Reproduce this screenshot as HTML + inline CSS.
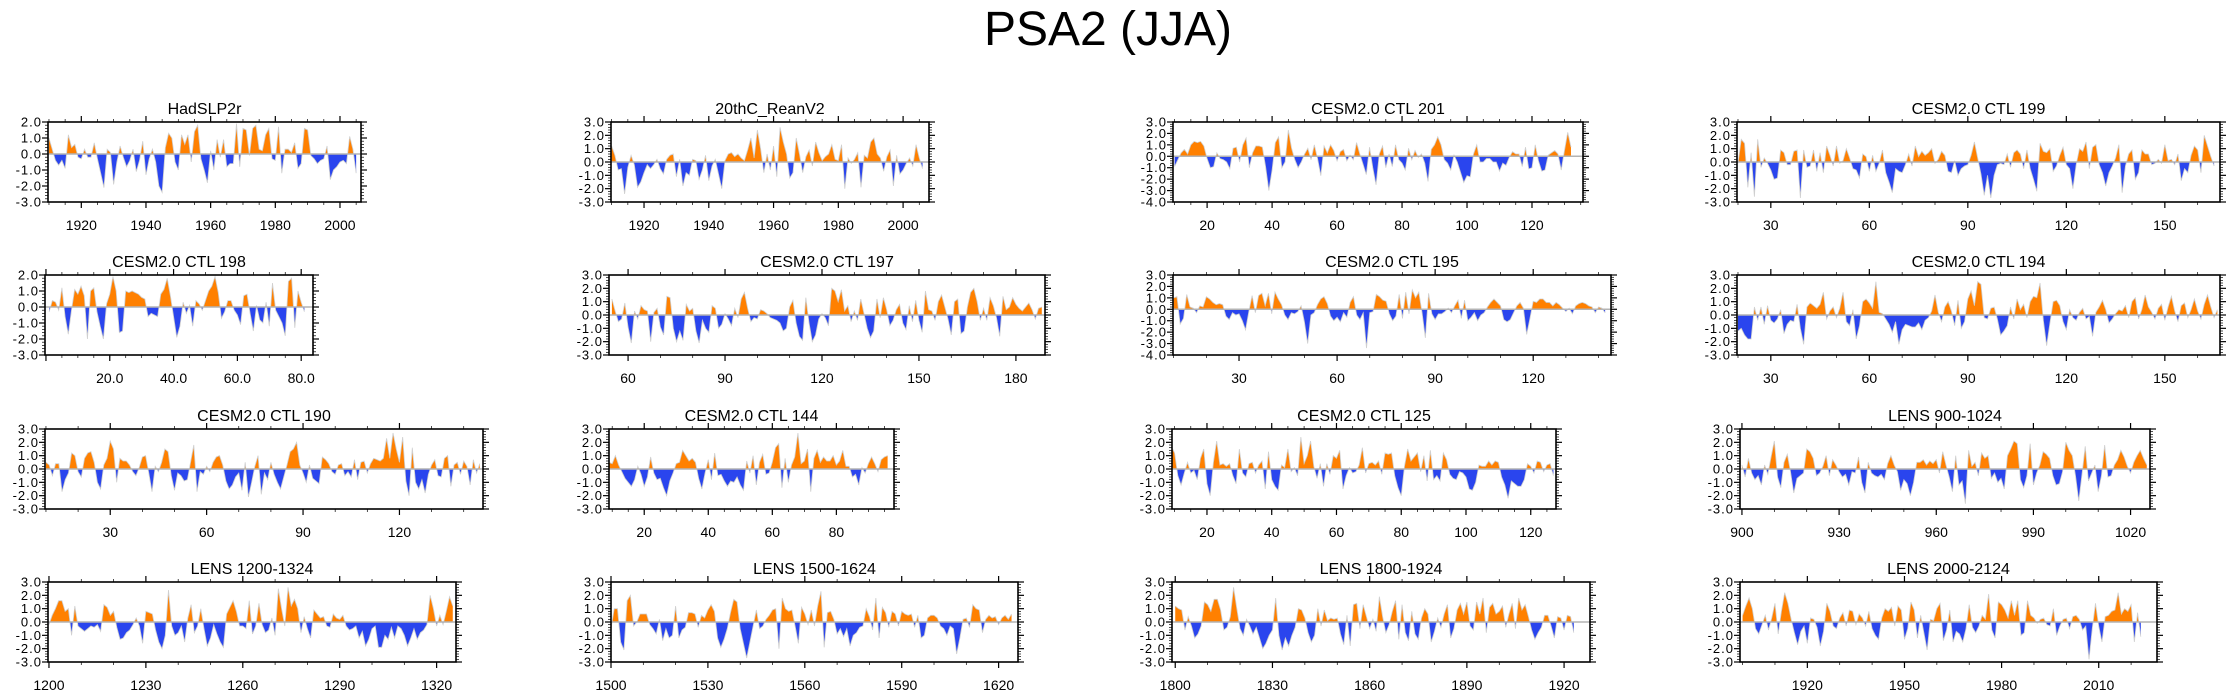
<!DOCTYPE html>
<html><head><meta charset="utf-8"><title>PSA2 (JJA)</title>
<style>
html,body{margin:0;padding:0;background:#fff;}
svg{display:block;font-family:"Liberation Sans",Arial,sans-serif;}
</style></head>
<body>
<svg id="chart" width="2237" height="698" viewBox="0 0 2237 698" xmlns="http://www.w3.org/2000/svg">
<rect x="0" y="0" width="2237" height="698" fill="#fff"/>
<text x="1108" y="45" font-size="48" text-anchor="middle" fill="#000">PSA2 (JJA)</text>
</svg>
<script>
// ---------- data ----------
const panelTitles = ["HadSLP2r","20thC_ReanV2","CESM2.0 CTL 201","CESM2.0 CTL 199",
 "CESM2.0 CTL 198","CESM2.0 CTL 197","CESM2.0 CTL 195","CESM2.0 CTL 194",
 "CESM2.0 CTL 190","CESM2.0 CTL 144","CESM2.0 CTL 125","LENS 900-1024",
 "LENS 1200-1324","LENS 1500-1624","LENS 1800-1924","LENS 2000-2124"];
const startYears = [1910,1910,10,20,1,55,10,20,10,9,9,900,1200,1500,1800,1900];
const yMins = [-3,-3,-4,-3,-3,-3,-4,-3,-3,-3,-3,-3,-3,-3,-3,-3];
const yMaxs = [2,3,3,3,2,3,3,3,3,3,3,3,3,3,3,3];
const xTickValues = [
 [1920,1940,1960,1980,2000],[1920,1940,1960,1980,2000],[20,40,60,80,100,120],[30,60,90,120,150],
 [20,40,60,80],[60,90,120,150,180],[30,60,90,120],[30,60,90,120,150],
 [30,60,90,120],[20,40,60,80],[20,40,60,80,100,120],[900,930,960,990,1020],
 [1200,1230,1260,1290,1320],[1500,1530,1560,1590,1620],[1800,1830,1860,1890,1920],[1920,1950,1980,2010]];
const xTickLabels = [
 ["1920","1940","1960","1980","2000"],["1920","1940","1960","1980","2000"],["20","40","60","80","100","120"],["30","60","90","120","150"],
 ["20.0","40.0","60.0","80.0"],["60","90","120","150","180"],["30","60","90","120"],["30","60","90","120","150"],
 ["30","60","90","120"],["20","40","60","80"],["20","40","60","80","100","120"],["900","930","960","990","1020"],
 ["1200","1230","1260","1290","1320"],["1500","1530","1560","1590","1620"],["1800","1830","1860","1890","1920"],["1920","1950","1980","2010"]];

const hadslpValues = [1.0,0.3,-0.4,-0.7,-0.4,-0.9,1.2,0.4,0.6,-0.2,-0.3,0.3,-0.2,-0.2,0.7,-0.3,-1.2,-2.1,0.3,0.1,-1.9,-0.5,0.5,-0.2,-0.8,-0.4,0.3,-1.1,-0.4,0.8,-1.3,-0.3,0.3,-0.5,-2.0,-2.4,0.4,1.3,1.0,-0.5,-1.0,1.2,0.6,1.2,-0.5,1.4,1.8,-0.3,-1.0,-1.8,0.2,-1.0,0.9,-0.2,0.9,-0.8,-0.6,-0.6,1.9,-0.8,1.6,1.5,-0.1,1.6,1.8,0.3,0.2,1.2,1.6,-0.3,-0.4,1.7,-1.2,0.3,0.3,0.1,0.7,-0.9,-0.6,1.6,1.5,-0.1,-0.3,-0.6,-0.4,-0.3,0.5,-1.6,-1.0,-0.8,-0.5,-0.4,-0.6,1.1,0.3,-1.2];
const reanValues = [1.2,0.5,-0.6,-0.5,-2.4,-0.4,0.5,-0.2,-1.9,-1.5,-0.8,-0.2,-0.5,-0.2,0.2,-0.5,-0.9,0.2,0.5,0.6,-1.1,0.2,-1.8,-0.8,-1.0,0.2,0.1,-1.3,-0.6,0.5,-1.4,-0.3,0.2,-0.9,-2.0,0.1,0.6,0.7,0.4,0.6,0.3,0.1,0.9,1.8,0.3,2.4,1.0,-0.8,0.6,-0.6,1.2,-1.1,2.6,1.5,0.6,-1.2,-0.8,1.8,0.6,-0.8,0.4,0.9,-0.3,1.5,0.7,0.1,0.4,0.6,1.3,0.2,0.1,1.3,-2.0,0.3,-0.1,0.2,0.7,-1.9,0.5,0.3,1.5,1.8,0.6,0.3,-0.7,0.4,0.9,-1.8,0.5,-0.9,-0.6,-0.1,0.3,-0.3,1.3,0.3,-0.5];
const ctl201Values = [-0.9,-0.3,0.3,0.6,0.2,1.0,1.3,1.2,1.3,0.9,-0.2,-1.0,-0.9,0.3,-0.2,-0.3,-0.5,-1.1,0.7,0.8,-0.5,1.0,1.6,-1.0,0.3,0.9,0.9,0.8,-0.9,-3.0,-1.2,1.2,1.7,-1.0,-0.5,2.3,0.7,-0.3,-1.0,-0.5,0.2,0.7,-0.3,1.0,-0.2,-1.7,0.9,0.3,1.0,0.5,-0.4,0.4,0.6,-0.4,0.1,-0.3,1.2,0.2,-0.7,-1.6,0.8,-1.0,-2.5,0.2,0.9,-1.0,0.2,-0.9,1.0,-0.3,-0.6,-1.2,0.7,-0.3,0.5,-0.1,0.2,-0.6,-2.2,0.6,1.0,1.7,1.0,-0.3,-0.6,-1.2,0.1,-0.5,-1.4,-2.3,-1.7,-1.8,0.2,1.0,-0.5,-0.5,-0.2,-0.2,-0.5,-0.5,-1.3,-0.6,-0.8,-0.1,0.4,0.2,0.2,-0.9,0.8,-1.1,-1.0,1.0,-0.4,-1.3,-1.2,0.1,0.3,0.5,0.2,-1.2,0.5,2.1,0.8];
const ctl199Values = [-0.1,1.7,1.4,-1.9,0.7,-2.6,1.7,-0.4,0.3,-0.1,-0.6,-1.3,-1.2,0.9,0.7,-0.2,-0.2,0.8,0.9,-2.7,0.9,-0.4,-0.3,0.9,-0.7,0.7,-0.8,1.2,0.5,-0.3,1.2,-0.1,0.1,1.0,0.3,-0.5,-0.6,-1.2,0.6,0.4,-0.7,0.5,-0.7,-0.1,0.9,-0.8,-1.5,-2.3,-0.5,-0.7,-0.8,-0.2,0.6,-0.3,1.2,0.4,0.8,0.5,0.7,1.0,-0.1,0.2,0.8,0.5,-0.7,-0.8,0.1,-1.0,-0.5,-0.3,-0.2,0.5,1.5,0.3,-0.9,-2.5,-1.0,-2.7,-1.0,-0.2,-0.1,-0.2,0.6,-0.4,0.7,0.9,0.6,-0.5,0.9,-0.5,-1.3,-2.2,1.4,0.8,0.7,1.0,-0.7,-0.3,0.5,1.1,-0.2,-0.5,-2.0,-0.2,1.0,0.8,1.5,-0.5,1.1,1.3,-0.2,-0.8,-1.8,-0.8,-0.3,0.3,1.3,-2.3,-0.3,0.6,0.9,-1.3,-0.8,0.9,0.6,0.6,-0.2,-0.1,0.2,-0.1,1.3,0.1,0.2,-0.2,0.6,-1.4,-0.5,-0.8,0.5,1.2,0.9,-0.8,2.0,1.2,0.4,-0.3];
const ctl198Values = [-0.3,0.4,0.3,-0.2,1.2,-0.6,-1.7,-0.2,1.1,0.8,1.3,0.7,-2.0,1.0,1.2,-0.3,-1.2,-2.0,0.2,0.8,1.9,1.0,-1.6,-1.5,1.0,0.9,1.0,0.9,0.8,0.6,0.5,-0.6,-0.4,-0.5,-0.6,0.8,1.1,1.8,0.7,-0.6,-1.9,-1.2,0.3,-0.4,0.1,-1.2,0.4,0.2,-0.2,0.4,1.0,1.3,1.9,0.9,-0.7,-0.3,0.4,0.4,-0.2,-0.5,-1.1,0.7,0.8,-0.4,-1.5,0.1,-0.8,-1.0,0.3,-1.2,1.5,-0.2,-0.6,-1.0,-1.8,1.6,1.8,-1.3,1.0,0.3,-0.3];
const ctl197Values = [1.2,0.3,-0.5,-0.3,0.9,-0.9,-2.1,0.3,-0.3,0.7,0.4,0.3,-2.0,0.2,0.5,-0.9,-1.5,1.4,1.3,-1.0,-2.0,-1.2,-1.9,0.8,0.3,0.5,-1.2,-2.1,-0.4,-1.0,-1.3,0.7,0.5,-1.0,-0.7,0.1,-0.3,-0.8,0.5,-0.2,1.2,1.7,0.5,-0.5,-0.2,-0.3,0.4,0.3,0.1,-0.2,-0.3,-0.4,-0.6,-1.2,-1.0,0.6,1.1,-0.6,-1.6,-1.9,1.3,-0.6,-2.0,-1.5,-0.3,0.1,-0.2,-0.8,2.0,1.8,1.0,1.9,0.3,0.7,-0.5,0.3,-0.4,1.2,0.1,-1.0,-1.7,-1.2,1.2,-0.2,1.3,0.4,-0.8,-0.4,0.4,0.8,-0.6,-1.1,0.7,-0.5,1.1,-0.4,-1.3,1.8,0.4,0.3,-0.4,1.0,1.5,0.6,-0.3,-1.5,1.0,1.2,-1.4,-1.2,0.6,1.7,2.0,1.0,-0.4,0.5,-0.4,1.3,0.7,-0.2,-1.6,1.4,0.4,0.6,1.3,0.8,0.5,0.3,0.6,0.9,0.4,-0.3,0.5,0.6];
const ctl195Values = [1.0,1.1,-1.3,-0.8,1.3,0.2,0.1,-0.3,0.3,0.2,1.1,0.9,0.6,0.4,0.5,0.4,-0.6,-0.9,-0.3,-0.5,-0.4,-1.0,-1.8,-0.2,1.2,-0.3,1.2,1.4,0.3,1.4,-0.4,1.5,0.9,0.4,-0.5,-0.9,-0.3,-0.4,-0.2,0.3,-1.1,-3.0,-0.5,-0.3,0.4,0.9,1.1,0.5,-0.6,-1.0,-0.7,-1.1,-0.3,-0.7,0.6,1.1,-0.5,-0.9,-0.3,-3.4,-0.3,-0.2,1.3,1.1,0.8,0.7,-0.4,-1.0,-0.6,1.3,-0.8,1.5,-0.4,1.7,1.0,1.5,-0.3,-2.5,1.4,-0.4,-0.9,-0.4,-0.4,-0.2,0.1,-0.3,0.3,0.8,-0.8,0.8,-1.0,-0.7,-0.3,-1.0,-0.5,-0.3,0.2,0.6,0.9,0.6,0.3,-0.9,-1.1,-0.9,-0.3,0.3,0.6,0.1,-2.2,-0.8,0.7,0.6,0.9,0.9,0.6,0.6,0.3,0.6,0.4,0.1,-0.2,0.1,-0.4,0.3,0.5,0.6,0.5,0.3,0.2,-0.3,0.2,0.1,-0.3];
const ctl194Values = [-1.2,-1.0,-1.5,-1.8,-1.8,0.6,-0.4,0.6,-0.7,0.7,-0.4,-0.6,-0.3,0.4,-1.4,-0.7,-0.4,-0.5,0.8,-1.0,-2.2,0.6,0.9,0.7,0.5,0.8,1.7,-0.3,0.3,0.6,-0.2,0.5,1.7,-0.5,-0.8,0.4,-1.8,-0.8,1.0,1.2,0.9,0.5,2.5,0.2,0.1,-0.3,-0.7,-1.3,-0.5,-2.2,-1.1,-0.7,-0.8,-0.9,-0.9,-0.6,-1.1,-0.4,-0.2,0.3,1.5,0.2,-0.5,0.6,1.0,0.3,-0.8,1.1,-1.0,-0.5,1.2,1.8,0.7,2.5,2.3,-0.2,-0.3,0.5,0.6,-0.3,-1.5,-1.2,-0.8,0.6,-0.3,1.2,0.4,0.8,-0.2,1.0,1.4,1.3,2.4,-0.4,-2.3,-0.6,1.0,1.1,0.7,-0.5,-1.1,0.4,-0.2,-0.4,0.2,0.5,-0.3,-0.1,-1.6,0.2,0.6,1.1,0.4,-0.6,-0.3,0.1,0.4,0.3,0.7,-0.2,1.0,1.3,-0.3,0.4,1.5,0.6,0.2,-0.3,0.5,0.8,-0.4,0.6,1.4,0.3,-0.5,0.7,0.9,-0.2,0.4,1.2,0.3,-0.3,0.8,1.5,0.6,-0.2,0.4];
const ctl190Values = [0.5,0.3,-0.5,0.4,0.4,-1.7,-0.8,-0.3,1.2,1.0,-0.2,-0.6,0.8,1.2,1.3,0.5,-1.0,-1.5,0.3,0.8,2.1,1.5,-1.0,0.8,0.6,0.6,0.3,-0.2,-0.5,0.1,0.9,1.0,-0.3,-1.7,0.2,-0.2,0.5,1.5,1.3,-0.5,-1.6,-0.3,-0.5,-0.9,-0.8,0.5,1.8,-1.7,-0.2,-0.4,0.2,-0.2,0.5,0.9,1.0,0.3,-0.9,-1.5,-1.2,-0.6,-0.3,-1.6,0.5,-2.1,-1.0,0.2,1.0,-1.9,-0.3,-0.8,0.5,-0.4,-1.0,-1.5,-0.6,0.3,1.3,1.5,2.0,0.3,-0.3,-1.0,0.3,-0.7,-0.9,-1.1,0.9,0.7,0.4,-0.2,-0.4,0.3,0.4,-0.5,-0.2,-0.6,0.7,-0.8,0.5,0.6,-0.3,0.4,0.8,0.7,0.6,0.8,2.3,0.8,2.7,1.5,0.5,2.4,-0.9,-2.0,1.6,-1.0,-1.5,-0.8,-1.8,-0.4,0.3,0.7,-0.5,-0.6,0.8,1.0,-1.3,0.3,0.5,-0.4,0.6,0.2,-1.2,0.7,-0.3,0.4];
const ctl144Values = [0.5,0.4,1.0,0.3,-0.2,-0.7,-1.0,-1.3,-0.8,0.2,-0.4,-1.3,-0.6,0.9,-0.3,-0.8,-0.7,-1.4,-2.0,-0.9,-0.3,0.4,0.5,1.4,1.0,0.6,0.8,0.5,-0.7,-1.5,-0.3,0.7,-0.8,1.2,-0.5,-0.4,-0.9,-1.3,-0.9,-1.0,-0.6,-1.2,-1.6,0.6,-0.3,1.0,-1.2,0.5,1.1,-0.4,-0.3,0.5,1.6,1.9,-1.4,0.8,-1.0,0.3,0.9,2.7,0.4,0.6,1.5,-1.7,0.8,1.4,0.5,0.9,0.6,0.6,1.0,0.3,0.6,1.4,0.2,0.2,-0.6,-0.4,-1.2,0.1,-0.3,0.4,0.9,0.4,-0.2,0.7,0.9,1.0];
const ctl125Values = [1.7,1.2,-0.5,-1.2,-0.3,0.5,-0.3,-0.1,-0.8,0.8,1.5,-1.1,-2.0,0.5,2.1,0.3,0.4,0.2,0.4,-0.5,-1.1,1.5,-0.3,-0.6,0.4,0.5,-0.3,0.3,0.6,-1.5,1.3,-0.8,-1.3,-1.6,0.3,0.1,1.5,-0.2,0.1,-0.5,2.4,0.4,1.0,2.1,0.2,-0.7,0.4,-1.3,0.4,-0.4,1.0,0.8,1.4,-1.5,-0.5,0.1,-0.3,-0.2,0.3,1.6,-0.3,0.4,0.5,0.3,0.6,-0.4,1.2,1.1,1.2,-0.5,-1.4,-2.0,0.2,1.5,0.6,0.9,1.2,-0.2,1.0,-0.9,1.4,-0.8,-0.5,-0.9,1.2,0.7,-0.4,-0.7,-0.8,-0.2,-0.3,-0.6,-1.5,-1.6,-1.0,0.3,0.2,0.2,0.6,0.3,0.6,0.5,-0.6,-1.2,-2.2,-0.9,-1.1,-1.3,-1.3,-0.8,0.4,0.2,-0.3,0.6,0.5,-0.2,0.3,0.4,-0.5];
const lens900Values = [0.3,-0.6,0.8,-0.3,-0.8,-0.5,-1.2,0.3,-0.4,0.9,2.1,-0.6,-1.4,0.5,1.1,-0.2,-1.8,-0.7,-0.5,-0.3,1.5,1.3,0.8,-0.5,-0.3,0.2,1.0,-0.5,0.7,0.3,-0.2,-0.6,-0.4,-1.2,-0.2,-0.3,0.9,-1.0,-1.8,0.5,-0.3,-0.5,-0.6,-0.4,-0.8,0.4,1.0,0.3,-0.2,-1.6,-0.8,-1.1,-2.0,-1.0,0.5,0.5,0.7,0.3,0.6,0.4,0.7,-0.3,1.3,0.3,-0.6,-1.7,1.0,-1.2,-0.9,-2.6,1.4,0.2,0.5,-0.5,1.2,0.8,1.0,-0.7,-0.3,-1.0,-0.7,-1.5,1.0,1.5,2.1,1.9,-0.8,-1.4,-0.5,1.9,-1.2,-0.3,0.3,1.3,1.1,0.8,-0.5,-1.2,-1.1,-0.2,2.0,1.4,1.0,-0.5,-2.4,-0.4,1.7,-0.9,-0.3,0.3,-1.7,-0.5,1.8,-0.6,-0.5,0.3,0.7,1.4,0.9,0.2,-0.3,0.5,1.0,1.4,0.8,0.3];
const lens1200Values = [-0.2,0.5,1.0,1.6,1.6,0.8,1.0,-1.0,1.2,-0.3,-0.5,-0.7,-0.5,-0.3,-0.4,-0.2,-0.7,1.3,1.1,0.5,0.8,-0.4,-1.3,-1.2,-0.8,-0.6,-0.2,0.3,-0.3,-1.6,0.8,0.7,0.6,-0.6,-1.5,-2.0,-1.0,2.4,-0.3,-1.0,-0.8,-0.3,-1.5,0.3,1.3,-0.8,-0.3,1.0,-0.5,-1.8,-1.2,-0.2,-0.9,-1.5,-1.9,0.6,1.1,1.6,0.8,-0.3,-0.3,-0.5,1.6,-0.9,-0.3,1.4,-0.2,-0.8,-0.6,0.3,-1.0,2.5,1.0,-0.3,2.6,1.2,1.7,1.0,-0.8,0.4,-0.5,-1.2,0.9,0.6,0.3,0.4,-0.3,-0.4,0.6,0.3,0.2,0.5,-0.3,-0.6,-0.5,-0.3,-1.2,-0.7,-1.8,-1.3,-0.5,-0.3,-1.9,-1.9,-1.0,-1.3,-0.4,-1.2,-0.3,-0.5,-1.0,-1.8,-1.2,-0.5,-1.3,-0.8,-0.6,-0.2,2.0,1.0,-0.3,0.5,-0.2,0.8,1.9,1.2];
const lens1500Values = [-0.5,1.0,1.0,-1.5,-2.1,1.6,2.0,-0.3,0.0,0.6,0.6,0.6,-0.2,-0.5,-0.9,0.2,-1.4,-0.5,-1.2,-1.0,1.2,-1.2,-0.6,-0.4,0.7,0.7,0.6,-0.4,0.5,0.3,0.9,1.3,0.8,-1.2,-1.9,-1.3,-0.5,0.7,1.7,1.5,-0.5,-1.6,-2.7,-1.5,-0.3,0.9,-0.5,-0.3,0.2,0.5,0.9,1.0,-2.0,1.8,1.0,0.8,0.9,-0.3,-1.6,1.1,0.6,-0.2,0.9,-0.3,1.2,2.3,-1.9,0.7,0.8,0.2,-0.9,-0.5,-1.1,-0.5,-1.8,-1.0,-0.8,-0.4,-0.3,1.0,0.4,-0.6,1.8,-1.2,1.1,0.7,-0.4,0.8,0.6,-0.3,0.8,0.6,0.5,0.6,-0.4,0.5,-1.2,-1.0,0.3,0.5,0.5,0.3,-0.3,-0.5,-1.0,-0.3,-0.5,-2.4,-1.2,0.2,0.3,-0.4,1.3,1.0,0.9,-0.8,0.2,0.5,0.3,0.4,-0.2,0.3,0.5,0.2,0.6];
const lens1800Values = [1.2,1.0,0.9,-0.6,0.4,-0.3,-1.2,-0.9,-0.3,1.5,1.3,0.8,1.7,1.7,0.9,-0.6,-0.4,0.4,2.6,1.0,-0.5,-1.0,0.2,-0.3,-0.9,-0.4,-1.2,-2.0,-1.6,-1.0,-0.6,1.8,-1.0,-2.1,-1.2,-1.8,-1.0,-0.4,1.0,0.9,0.3,-0.8,-1.5,-1.0,1.0,-0.3,0.9,0.1,0.3,0.2,0.3,-0.9,-1.7,0.5,-1.8,1.3,1.4,-0.5,1.3,0.4,-0.5,0.2,-0.7,1.9,0.4,-0.8,-0.2,0.8,1.6,-1.3,1.3,-0.8,-1.4,0.8,-0.9,-1.3,0.3,1.0,0.6,-1.5,-0.7,0.3,-0.4,0.6,1.3,-1.2,-0.5,0.9,1.4,0.6,1.5,-0.3,-0.6,1.5,0.6,1.8,-0.8,1.1,1.4,0.6,0.8,1.2,-0.4,0.6,1.4,-0.5,1.8,0.9,1.3,0.4,-0.6,-1.3,-0.8,-0.4,0.5,0.5,-0.3,-1.2,0.4,0.3,-0.6,0.5,0.4,-0.8];
const lens2000Values = [0.5,1.2,1.8,1.0,-0.5,-0.9,-0.2,0.5,-0.6,0.3,1.4,-0.9,0.8,2.2,1.4,0.2,-0.8,-1.7,-0.7,-0.3,-1.6,0.3,0.2,-0.4,-1.8,-0.7,1.4,0.8,-0.3,-0.5,0.3,0.7,-0.3,0.9,0.8,-0.2,0.6,0.3,-0.3,0.8,-0.5,-1.0,-1.3,0.3,1.0,0.8,1.1,-0.3,1.2,0.9,-1.3,-0.5,1.5,0.9,-1.2,0.5,-0.8,-2.1,0.2,0.1,1.0,1.4,-1.4,-0.6,0.9,-1.5,-0.7,-0.9,-1.5,-0.5,1.3,-0.4,-0.8,-0.3,0.5,0.2,2.1,-0.6,-1.2,1.5,1.3,0.9,0.3,1.6,0.5,1.6,-1.0,-0.8,1.6,0.5,0.3,-0.1,0.2,0.3,-0.2,-0.3,1.0,-1.0,-0.3,0.2,0.3,-0.5,0.4,0.5,0.2,-0.6,-0.3,-2.8,-0.5,1.4,-0.3,-1.5,0.4,0.5,0.8,0.9,2.2,0.6,1.0,0.8,1.3,-1.5,0.7,-1.1];

// ---------- layout (pixels, not data) ----------
const seriesList = [hadslpValues,reanValues,ctl201Values,ctl199Values,ctl198Values,ctl197Values,ctl195Values,ctl194Values,
 ctl190Values,ctl144Values,ctl125Values,lens900Values,lens1200Values,lens1500Values,lens1800Values,lens2000Values];
const layout = [
 {x0:48,x1:361,xa:1909.7,xb:2006.5,row:0,minor:5},
 {x0:611,x1:929,xa:1909.8,xb:2008,row:0,minor:5},
 {x0:1173,x1:1583,xa:9.5,xb:135.7,row:0,minor:5},
 {x0:1737,x1:2220,xa:19.7,xb:166.8,row:0,minor:10},
 {x0:45,x1:313,xa:-0.3,xb:83.7,row:1,minor:5},
 {x0:609,x1:1045,xa:54.1,xb:189,row:1,minor:10},
 {x0:1173,x1:1611,xa:9.8,xb:143.8,row:1,minor:10},
 {x0:1737,x1:2220,xa:19.7,xb:166.8,row:1,minor:10},
 {x0:45,x1:483,xa:9.7,xb:146,row:2,minor:10},
 {x0:609,x1:894,xa:9,xb:98,row:2,minor:5},
 {x0:1172,x1:1556,xa:9.2,xb:127.8,row:2,minor:5},
 {x0:1740,x1:2150,xa:899.4,xb:1026,row:2,minor:10},
 {x0:48,x1:456,xa:1199.7,xb:1326,row:3,minor:10},
 {x0:611,x1:1018,xa:1500,xb:1626,row:3,minor:10},
 {x0:1172,x1:1590,xa:1799,xb:1928,row:3,minor:10},
 {x0:1740,x1:2157,xa:1899.2,xb:2028,row:3,minor:10}];
const rowTops = [122,275,429,582];
const boxH = 80;

const NS = "http://www.w3.org/2000/svg";
const svg = document.getElementById("chart");
function mk(tag, attrs, parent){const e=document.createElementNS(NS,tag);for(const k in attrs)e.setAttribute(k,attrs[k]);(parent||svg).appendChild(e);return e;}

layout.forEach((L, i) => {
  const vals = seriesList[i];
  const start = startYears[i];
  const y0 = rowTops[L.row], y1 = y0 + boxH;
  const ymin = yMins[i], ymax = yMaxs[i];
  const xs = v => L.x0 + (v - L.xa) / (L.xb - L.xa) * (L.x1 - L.x0);
  const ys = v => y1 - (v - ymin) / (ymax - ymin) * boxH;
  const g = mk("g", {});
  
  

  const t = mk("text", {x:(L.x0+L.x1)/2, y:y0-8, "font-size":16, "text-anchor":"middle", fill:"#000"}, g);
  t.textContent = panelTitles[i];
  
  

  const zy = ys(0);
  const cid = "c" + i;
  const defs = mk("defs", {}, g);
  const cp1 = mk("clipPath", {id: cid + "p"}, defs);
  mk("rect", {x:L.x0, y:y0, width:L.x1-L.x0, height:zy-y0}, cp1);
  const cp2 = mk("clipPath", {id: cid + "n"}, defs);
  mk("rect", {x:L.x0, y:zy, width:L.x1-L.x0, height:y1-zy}, cp2);

  let pts = vals.map((v, k) => xs(start + k).toFixed(2) + "," + ys(v).toFixed(2));
  const xa = xs(start).toFixed(2), xb = xs(start + vals.length - 1).toFixed(2);
  const area = "M" + xa + "," + zy + " L" + pts.join(" L") + " L" + xb + "," + zy + " Z";
  const pos = mk("path", {d:area, fill:"#ff8000", "clip-path":"url(#"+cid+"p)"}, g);
  
  
  const neg = mk("path", {d:area, fill:"#2a45ee", "clip-path":"url(#"+cid+"n)"}, g);
  
  
  const ln = mk("path", {d:"M" + pts.join(" L"), fill:"none", stroke:"#cfcfcf", "stroke-width":0.8}, g);
  
  
  const zl = mk("line", {x1:L.x0, x2:L.x1, y1:zy, y2:zy, stroke:"#b4b4b4", "stroke-width":1.5}, g);
  
  

  const box = mk("rect", {x:L.x0, y:y0, width:L.x1-L.x0, height:boxH, fill:"none", stroke:"#000", "stroke-width":1.6}, g);
  
  

  for (let k = Math.round(ymin*5); k <= Math.round(ymax*5); k++) {
    const v = k/5, yy = ys(v), major = (k % 5 === 0);
    const len = major ? 6 : 3;
    mk("line", {x1:L.x0-len, x2:L.x0, y1:yy, y2:yy, stroke:"#000", "stroke-width":major?1.2:0.7}, g);
    mk("line", {x1:L.x1, x2:L.x1+len, y1:yy, y2:yy, stroke:"#000", "stroke-width":major?1.2:0.7}, g);
    if (major) {
      const lab = mk("text", {x:L.x0-6, y:yy+4.5, "font-size":13, "text-anchor":"end", "letter-spacing":"1", fill:"#000"}, g);
      lab.textContent = v.toFixed(1);
      
      
    }
  }
  const m = L.minor;
  for (let v = Math.ceil(L.xa/m)*m; v <= L.xb; v += m) {
    const xx = xs(v);
    mk("line", {x1:xx, x2:xx, y1:y1, y2:y1+3, stroke:"#000", "stroke-width":0.7}, g);
    mk("line", {x1:xx, x2:xx, y1:y0-3, y2:y0, stroke:"#000", "stroke-width":0.7}, g);
  }
  const tv = xTickValues[i];
  const maj = tv[1] - tv[0];
  for (let v = Math.ceil(L.xa/maj)*maj; v <= L.xb; v += maj) {
    const xx = xs(v);
    mk("line", {x1:xx, x2:xx, y1:y1, y2:y1+6, stroke:"#000", "stroke-width":1.2}, g);
    mk("line", {x1:xx, x2:xx, y1:y0-6, y2:y0, stroke:"#000", "stroke-width":1.2}, g);
  }
  tv.forEach((v, k) => {
    const lab = mk("text", {x:xs(v), y:y1+28, "font-size":14, "text-anchor":"middle", fill:"#000"}, g);
    lab.textContent = xTickLabels[i][k];
    
    
  });
});
</script>
</body></html>
